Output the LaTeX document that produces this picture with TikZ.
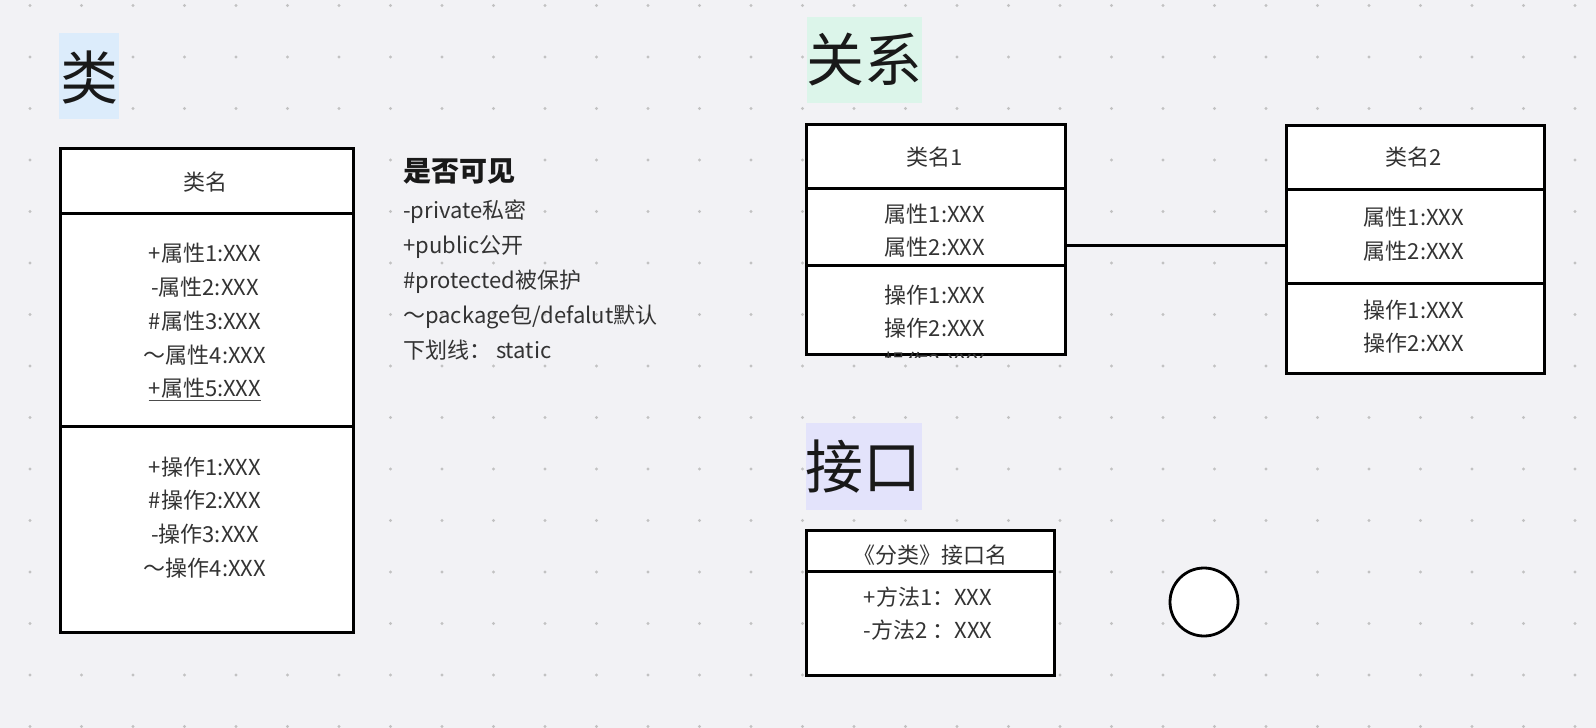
\documentclass[tikz,border=0pt]{standalone}
\usepackage{fontspec}
\setmainfont{Noto Sans CJK SC}
\definecolor{bgc}{RGB}{242,242,245}
\begin{document}
\begin{tikzpicture}[x=1pt,y=-1pt,
  comp/.style={draw=black, line width=2.8pt, fill=white, inner sep=0pt, anchor=north west},
  txt/.style={inner sep=0pt, text=black!80, font=\fontsize{22}{24}\selectfont},
  ltxt/.style={txt, anchor=west},
  title/.style={inner sep=0pt, text=black!90, font=\fontsize{58}{60}\selectfont},
  hl/.style={draw=none},
  conn/.style={draw=black, line width=3pt},
  griddot/.style={fill=black!24}
]
\useasboundingbox (0,0) rectangle (1596,728);
\fill[bgc] (0,0) rectangle (1596,728);
% dot grid
\foreach \i in {0,...,30}{
  \foreach \j in {0,...,14}{
    \fill[griddot] ({30+51.5*\i},{5.5+51.5*\j}) circle (1.7);
  }
}
% title highlights
\fill[hl, fill={rgb,255:red,220;green,236;blue,251}] (59,33) rectangle (119,119);
\fill[hl, fill={rgb,255:red,220;green,245;blue,234}] (807,17) rectangle (922,103);
\fill[hl, fill={rgb,255:red,227;green,227;blue,251}] (806,423) rectangle (922,510);
\node[title] (tlei) at (89,77) {类};
\node[title] (tguanxi) at (864,60) {关系};
\node[title] (tjiekou) at (863,467) {接口};

% left class
\node[comp, minimum width=293pt, minimum height=65pt] (lh) at (59,147) {};
\node[comp, minimum width=293pt, minimum height=213pt] (la) at (59,212) {};
\node[comp, minimum width=293pt, minimum height=206pt] (lo) at (59,425) {};
\node[txt] (lname) at (205,182) {类名};
\node[txt] (la1) at (205,253) {+属性1:XXX};
\node[txt] (la2) at (205,287) {-属性2:XXX};
\node[txt] (la3) at (205,321) {\#属性3:XXX};
\node[txt] (la4) at (205,355) {～属性4:XXX};
\node[txt] (la5) at (205,388) {+属性5:XXX};
\draw[black!70, line width=1pt] ([yshift=-4.5pt]la5.base west) -- ([yshift=-4.5pt]la5.base east);
\node[txt] (lo1) at (205,467) {+操作1:XXX};
\node[txt] (lo2) at (205,500) {\#操作2:XXX};
\node[txt] (lo3) at (205,534) {-操作3:XXX};
\node[txt] (lo4) at (205,568) {～操作4:XXX};

% visibility notes
\node[ltxt, font=\fontsize{28}{30}\selectfont\bfseries, text=black!90] (vis) at (403,171) {是否可见};
\node[ltxt] (v1) at (403,212) {-private私密};
\node[ltxt] (v2) at (403,247) {+public公开};
\node[ltxt] (v3) at (403,282) {\#protected被保护};
\node[ltxt] (v4) at (403,317) {～package包/defalut默认};
\node[ltxt] (v5) at (403,350) {下划线：\ static};

% relation class 1
\node[comp, minimum width=259pt, minimum height=64pt] (c1h) at (805,123) {};
\node[comp, minimum width=259pt, minimum height=77pt] (c1a) at (805,187) {};
\node[comp, minimum width=259pt, minimum height=89pt] (c1o) at (805,264) {};
\node[txt] (c1name) at (935,157) {类名1};
\node[txt] (c1a1) at (935,214) {属性1:XXX};
\node[txt] (c1a2) at (935,247) {属性2:XXX};
\node[txt] (c1o1) at (935,295) {操作1:XXX};
\node[txt] (c1o2) at (935,328) {操作2:XXX};
\begin{scope}
  \clip (c1o.north west) rectangle ([yshift=-1.4pt]c1o.south east);
  \node[txt] (c1o3) at (935,362) {操作3:XXX};
\end{scope}

% relation class 2
\node[comp, minimum width=258pt, minimum height=64pt] (c2h) at (1285,124) {};
\node[comp, minimum width=258pt, minimum height=94pt] (c2a) at (1285,188) {};
\node[comp, minimum width=258pt, minimum height=90pt] (c2o) at (1285,282) {};
\node[txt] (c2name) at (1414,157) {类名2};
\node[txt] (c2a1) at (1414,217) {属性1:XXX};
\node[txt] (c2a2) at (1414,251) {属性2:XXX};
\node[txt] (c2o1) at (1414,310) {操作1:XXX};
\node[txt] (c2o2) at (1414,343) {操作2:XXX};

\coordinate (liney) at (0,245);
\draw[conn] (c1a.east |- liney) -- (c2a.west |- liney);

% interface
\node[comp, minimum width=248pt, minimum height=41pt] (ih) at (805,529) {};
\node[comp, minimum width=248pt, minimum height=104pt] (ib) at (805,570) {};
\node[txt] (iname) at (930,555) {《分类》接口名};
\node[txt] (im1) at (928,597) {+方法1：XXX};
\node[txt] (im2) at (928,630) {-方法2 ：XXX};
\node[circle, draw=black, line width=2.8pt, fill=white, minimum size=68pt, inner sep=0pt] (lollipop) at (1204,602) {};
\end{tikzpicture}
\end{document}
